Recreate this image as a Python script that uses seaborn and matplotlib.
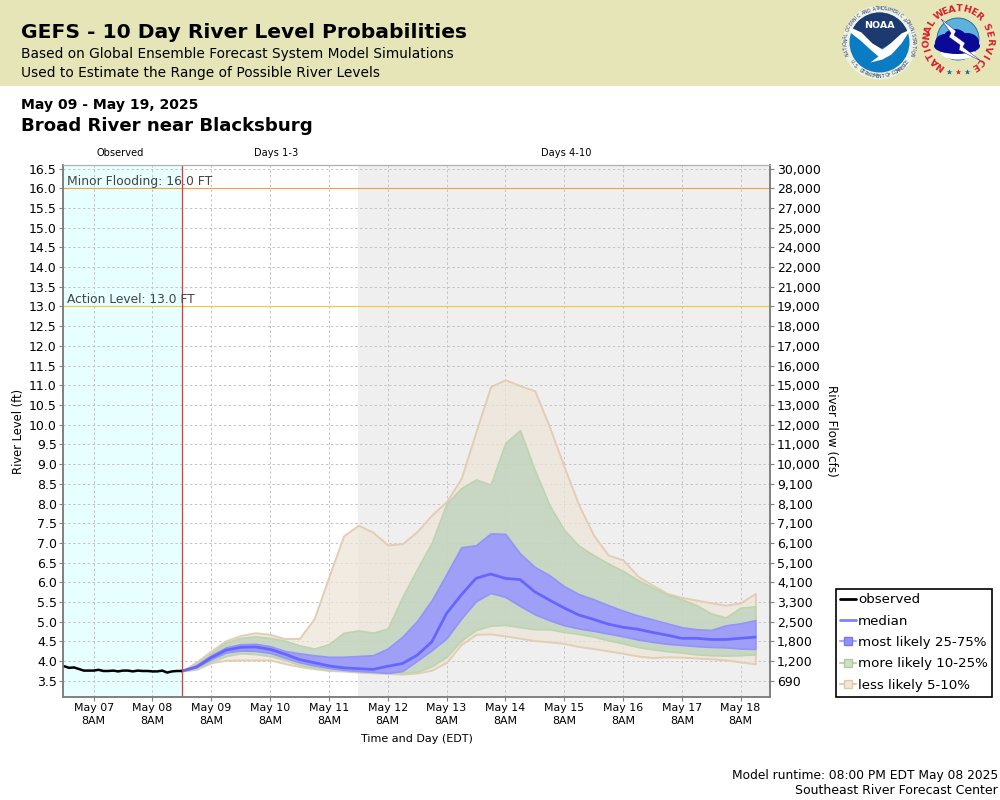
import numpy as np
import pandas as pd
import matplotlib
matplotlib.use("Agg")
import matplotlib.pyplot as plt
import matplotlib.dates as mdates
from matplotlib.lines import Line2D
from matplotlib.patches import Circle, Polygon, Rectangle, Ellipse
import seaborn as sns

# River level readings (ft), observed every 2 hours
observed = [3.87, 3.83, 3.84, 3.80, 3.76, 3.76, 3.76, 3.78, 3.75, 3.75, 3.76, 3.74, 3.76,
            3.76, 3.74, 3.76, 3.75, 3.75, 3.74, 3.74, 3.76, 3.71, 3.74, 3.75, 3.75]

# Forecast percentiles (ft), every 6 hours
less_high = [3.75, 3.98, 4.26, 4.52, 4.65, 4.72, 4.68, 4.57, 4.58, 5.08, 6.14, 7.18, 7.45, 7.27,
             6.95, 6.98, 7.29, 7.71, 8.05, 8.64, 9.82, 10.97, 11.14, 10.99, 10.86, 9.95, 8.93, 7.96,
             7.20, 6.69, 6.57, 6.16, 5.93, 5.72, 5.62, 5.55, 5.48, 5.42, 5.48, 5.72]
more_high = [3.75, 3.94, 4.21, 4.47, 4.59, 4.63, 4.59, 4.52, 4.40, 4.32, 4.43, 4.72, 4.78, 4.72,
             4.83, 5.63, 6.34, 7.01, 8.00, 8.39, 8.61, 8.48, 9.54, 9.86, 8.85, 7.96, 7.33, 6.93,
             6.69, 6.48, 6.29, 6.06, 5.87, 5.69, 5.57, 5.42, 5.21, 5.11, 5.36, 5.39]
most_high = [3.75, 3.90, 4.15, 4.35, 4.43, 4.44, 4.38, 4.26, 4.20, 4.15, 4.11, 4.11, 4.13, 4.15,
             4.32, 4.62, 5.02, 5.55, 6.21, 6.89, 6.94, 7.24, 7.23, 6.73, 6.39, 6.18, 5.90, 5.70,
             5.57, 5.42, 5.28, 5.16, 5.06, 4.96, 4.86, 4.81, 4.79, 4.91, 4.96, 5.04]
median = [3.75, 3.85, 4.09, 4.28, 4.35, 4.36, 4.30, 4.18, 4.04, 3.96, 3.88, 3.83, 3.81, 3.79,
          3.87, 3.94, 4.15, 4.49, 5.21, 5.68, 6.10, 6.21, 6.10, 6.07, 5.76, 5.55, 5.35, 5.17,
          5.06, 4.94, 4.86, 4.81, 4.73, 4.66, 4.58, 4.58, 4.55, 4.55, 4.58, 4.61]
most_low = [3.75, 3.85, 4.05, 4.22, 4.27, 4.26, 4.21, 4.09, 3.97, 3.89, 3.83, 3.78, 3.75, 3.73,
            3.70, 3.75, 4.01, 4.28, 4.58, 5.08, 5.52, 5.73, 5.63, 5.40, 5.19, 5.04, 4.91, 4.83,
            4.77, 4.70, 4.63, 4.55, 4.49, 4.44, 4.41, 4.38, 4.36, 4.35, 4.32, 4.31]
more_low = [3.75, 3.82, 3.98, 4.13, 4.20, 4.18, 4.13, 4.03, 3.90, 3.84, 3.79, 3.76, 3.74, 3.71,
            3.70, 3.70, 3.73, 3.87, 4.11, 4.52, 4.79, 4.90, 4.92, 4.86, 4.81, 4.81, 4.74, 4.69,
            4.62, 4.53, 4.45, 4.36, 4.30, 4.25, 4.22, 4.17, 4.15, 4.14, 4.15, 4.17]
less_low = [3.75, 3.79, 3.96, 4.02, 4.03, 4.03, 4.03, 3.94, 3.86, 3.81, 3.76, 3.75, 3.72, 3.70,
            3.69, 3.67, 3.70, 3.77, 3.97, 4.42, 4.68, 4.69, 4.64, 4.58, 4.52, 4.49, 4.45, 4.37,
            4.32, 4.26, 4.20, 4.13, 4.09, 4.11, 4.10, 4.08, 4.06, 4.03, 3.98, 3.93]

# Axis labels
level_ticks = [16.5, 16.0, 15.5, 15.0, 14.5, 14.0, 13.5, 13.0, 12.5, 12.0, 11.5, 11.0, 10.5, 10.0,
               9.5, 9.0, 8.5, 8.0, 7.5, 7.0, 6.5, 6.0, 5.5, 5.0, 4.5, 4.0, 3.5]
flow_labels = ["30,000", "28,000", "27,000", "25,000", "24,000", "22,000", "21,000", "19,000",
               "18,000", "17,000", "16,000", "15,000", "13,000", "12,000", "11,000", "10,000",
               "9,100", "8,100", "7,100", "6,100", "5,100", "4,100", "3,300", "2,500", "1,800",
               "1,200", "690"]

RUN_TIME = pd.Timestamp("2025-05-08 20:00")
W, H = 1000, 800
FONT = "DejaVu Sans"


def ring_text(ax, text, cx, cy, r, start, end, inner=False, **kw):
    """Writes text letter by letter along a circle, angles in degrees (screen px, y down)."""
    for ch, a in zip(text, np.linspace(start, end, len(text))):
        t = np.radians(a)
        rot = -a + 90 if inner else -a - 90
        ax.text(cx + r * np.cos(t), cy + r * np.sin(t), ch, rotation=rot,
                ha="center", va="center", rotation_mode="anchor", **kw)


def draw_noaa(ax, cx=879.5, cy=42.5):
    ax.add_patch(Circle((cx, cy), 37, fc="#F1F1E2", ec="none"))
    disc = Circle((cx, cy), 30, fc="#0A7CC4", ec="none")
    ax.add_patch(disc)
    navy = Polygon([[cx - 31, cy - 31], [cx + 31, cy - 31], [cx + 31, cy - 11], [cx + 8, cy + 3],
                    [cx, cy + 7], [cx - 8, cy + 1], [cx - 31, cy - 15]], fc="#1D3A70", ec="none")
    ax.add_patch(navy)
    navy.set_clip_path(disc)
    bird = Polygon([[cx - 31, cy - 16], [cx - 18, cy - 10], [cx - 7, cy + 1], [cx + 3, cy + 7],
                    [cx + 11, cy + 1], [cx + 22, cy - 9], [cx + 31, cy - 13], [cx + 22, cy + 1],
                    [cx + 12, cy + 12], [cx + 3, cy + 17], [cx - 9, cy + 20], [cx - 1, cy + 14],
                    [cx - 7, cy + 9], [cx - 19, cy - 2], [cx - 28, cy - 9]], fc="white", ec="none")
    ax.add_patch(bird)
    ax.text(cx, cy - 17.5, "NOAA", color="white", fontsize=6.8, fontweight="bold", ha="center", va="center")
    ring_text(ax, "NATIONAL OCEANIC AND ATMOSPHERIC ADMINISTRATION", cx, cy, 33.8, 160, 380,
              fontsize=3.3, color="#1D3A70", family=FONT)
    ring_text(ax, "U.S. DEPARTMENT OF COMMERCE", cx, cy, 33.8, 145, 35, inner=True,
              fontsize=3.3, color="#1D3A70", family=FONT)


def draw_nws(ax, cx=958, cy=38):
    ax.add_patch(Circle((cx, cy + 1), 21, fc="#5DB2DC", ec="#1D5F9E", lw=0.6))
    ax.add_patch(Ellipse((cx, cy + 15), 34, 13, fc="white", ec="none"))
    for dx, dy, rx, ry in [(-13, 5, 10, 9), (-3, 1, 12, 10), (9, 4, 12, 9), (-1, 8, 23, 8)]:
        ax.add_patch(Ellipse((cx + dx, cy + dy), rx * 2, ry * 2, fc="#0A0A96", ec="none"))
    ax.add_patch(Polygon([[cx - 17, cy - 19], [cx - 2, cy - 7], [cx - 4, cy - 3], [cx + 7, cy + 5],
                          [cx + 5, cy + 9], [cx + 23, cy + 23], [cx + 1, cy + 12], [cx + 2, cy + 7],
                          [cx - 9, cy - 1], [cx - 7, cy - 5]], fc="white", ec="#0A0A96", lw=0.3))
    ring_kw = dict(fontsize=6.8, fontweight="bold", color="#D81E2C", family=FONT)
    ring_text(ax, "NATIONAL", cx, cy + 2, 31, 125, 212, **ring_kw)
    ring_text(ax, "WEATHER", cx, cy + 2, 31, 233, 312, **ring_kw)
    ring_text(ax, "SERVICE", cx, cy + 2, 31, 335, 418, **ring_kw)
    for dx, col in [(-9, "#1D5F9E"), (0, "#D81E2C"), (9, "#1D5F9E")]:
        ax.plot(cx + dx, cy + 34, marker="*", ms=4, color=col, mec="none")


def main():
    sns.set_theme(style="white")
    plt.rcParams["font.family"] = [FONT]
    plt.rcParams["text.color"] = "black"
    plt.rcParams["axes.labelcolor"] = "black"
    plt.rcParams["xtick.labelcolor"] = "black"
    plt.rcParams["ytick.labelcolor"] = "black"

    fig = plt.figure(figsize=(W / 100, H / 100), dpi=100, facecolor="white")

    # Page furniture is laid out in pixel coordinates on a full-size background axes
    page = fig.add_axes([0, 0, 1, 1], zorder=0)
    page.set_xlim(0, W)
    page.set_ylim(H, 0)
    page.axis("off")
    page.add_patch(Rectangle((0, 0), W, 85.5, fc="#E5E5B8", ec="none"))
    page.text(21, 33, "GEFS - 10 Day River Level Probabilities", fontsize=14.55, fontweight="bold", va="center")
    page.text(21, 54, "Based on Global Ensemble Forecast System Model Simulations", fontsize=9.95, va="center")
    page.text(21, 73, "Used to Estimate the Range of Possible River Levels", fontsize=9.95, va="center")
    page.text(21, 105, "May 09 - May 19, 2025", fontsize=10.05, fontweight="bold", va="center")
    page.text(21, 126, "Broad River near Blacksburg", fontsize=13.05, fontweight="bold", va="center")
    page.text(120, 153.5, "Observed", fontsize=7.1, ha="center", va="center")
    page.text(276.5, 153.5, "Days 1-3", fontsize=7.1, ha="center", va="center")
    page.text(566, 153.5, "Days 4-10", fontsize=7.1, ha="center", va="center")
    page.text(998, 775, "Model runtime: 08:00 PM EDT May 08 2025", fontsize=8.85, ha="right", va="center")
    page.text(998, 791, "Southeast River Forecast Center", fontsize=9, ha="right", va="center")
    draw_noaa(page)
    draw_nws(page)

    ax = fig.add_axes([63 / W, 1 - 697 / H, 707 / W, 532 / H], zorder=1)
    ax.set_facecolor("white")

    obs_times = pd.date_range(end=RUN_TIME, periods=len(observed), freq="2h")
    fc_times = pd.date_range(start=RUN_TIME, periods=len(median), freq="6h")

    ax.set_xlim(pd.Timestamp("2025-05-06 19:30"), pd.Timestamp("2025-05-18 20:00"))
    ax.set_ylim(3.09, 16.59)

    # Period shading
    ax.axvspan(ax.get_xlim()[0], mdates.date2num(RUN_TIME), color="#E8FFFF", lw=0, zorder=0)
    ax.axvspan(mdates.date2num(RUN_TIME + pd.Timedelta(days=3)), ax.get_xlim()[1], color="#EFEFEF", lw=0, zorder=0)

    # Probability bands, widest first
    ax.fill_between(fc_times, less_low, less_high, facecolor=(238/255, 228/255, 214/255, 0.72),
                    edgecolor="#E3CDB5", lw=1.4, zorder=2)
    ax.fill_between(fc_times, more_low, more_high, facecolor=(185/255, 209/255, 185/255, 0.72),
                    edgecolor="#BDD4AF", lw=1.2, zorder=3)
    ax.fill_between(fc_times, most_low, most_high, facecolor=(155/255, 153/255, 255/255, 0.90),
                    edgecolor="#9393FA", lw=1.2, zorder=4)

    sns.lineplot(x=fc_times, y=median, color="#6666FF", linewidth=2.0, ax=ax, zorder=5, errorbar=None)
    sns.lineplot(x=obs_times, y=observed, color="black", linewidth=1.8, ax=ax, zorder=6, errorbar=None)

    # Flood stages and run time marker
    ax.axhline(16.0, color="#F5A040", lw=0.8, zorder=2)
    ax.axhline(13.0, color="#F2C83C", lw=0.8, zorder=2)
    ax.axvline(RUN_TIME, color="#D93A3A", lw=0.9, zorder=7)
    ax.annotate("Minor Flooding: 16.0 FT", (0, 16.0), xycoords=("axes fraction", "data"), xytext=(3, 2.5),
                textcoords="offset points", fontsize=8.9, color="#444444", zorder=8)
    ax.annotate("Action Level: 13.0 FT", (0, 13.0), xycoords=("axes fraction", "data"), xytext=(3, 2.5),
                textcoords="offset points", fontsize=8.85, color="#444444", zorder=8)

    # Axes and grid
    ticks = pd.date_range("2025-05-07 08:00", "2025-05-18 08:00", freq="D")
    ax.set_xticks(ticks)
    ax.set_xticklabels([t.strftime("%b %d") + "\n8AM" for t in ticks], fontsize=7.9, linespacing=1.3)
    ax.set_yticks(level_ticks)
    ax.set_yticklabels([f"{v:.1f}" for v in level_ticks], fontsize=9)
    ax.set_xlabel("Time and Day (EDT)", fontsize=8.05, labelpad=6)
    ax.set_ylabel("River Level (ft)", fontsize=8.3, labelpad=2.5)
    ax.grid(True, color="#C4C4C4", ls=(0, (2.5, 2.5)), lw=0.7)
    ax.set_axisbelow(True)
    ax.tick_params(axis="both", length=3, width=0.8, color="#808080", pad=1.5,
                   bottom=True, left=True)

    flow_ax = ax.twinx()
    flow_ax.set_ylim(ax.get_ylim())
    flow_ax.set_yticks(level_ticks)
    flow_ax.set_yticklabels(flow_labels, fontsize=9)
    flow_ax.set_ylabel("River Flow (cfs)", fontsize=8.6, rotation=270, labelpad=12.5)
    flow_ax.tick_params(axis="y", length=3, width=0.8, color="#808080", pad=2, right=True)
    flow_ax.grid(False)

    for a in (ax, flow_ax):
        for side in ("left", "bottom", "right"):
            a.spines[side].set_color("#808080")
            a.spines[side].set_linewidth(1.2)
        a.spines["top"].set_color("#B0B0B0")
        a.spines["top"].set_linewidth(0.8)

    handles = [
        Line2D([], [], color="black", lw=2),
        Line2D([], [], color="#8080FF", lw=2),
        Line2D([], [], color="#A8A8FF", lw=1.5, marker="s", ms=5.5, mfc="#9090FA", mec="#7878F0"),
        Line2D([], [], color="#BDD4AF", lw=1.5, marker="s", ms=5.5, mfc="#CDE0C4", mec="#B0CCA0"),
        Line2D([], [], color="#E3CDB5", lw=1.5, marker="s", ms=5.5, mfc="#F1E6DA", mec="#E0C8AE"),
    ]
    names = ["observed", "median", "most likely 25-75%", "more likely 10-25%", "less likely 5-10%"]
    leg = fig.legend(handles, names, loc="lower left", bbox_to_anchor=(835.5 / W, 1 - 696.5 / H),
                     bbox_transform=fig.transFigure, fontsize=9.6, frameon=True, fancybox=False, framealpha=1,
                     edgecolor="black", borderpad=0.35, labelspacing=0.63, handlelength=1.2, handletextpad=0.12,
                     borderaxespad=0)
    leg.get_frame().set_linewidth(1.2)
    leg.set_zorder(10)

    fig.savefig("out.png", dpi=100, facecolor="white")


if __name__ == "__main__":
    main()
